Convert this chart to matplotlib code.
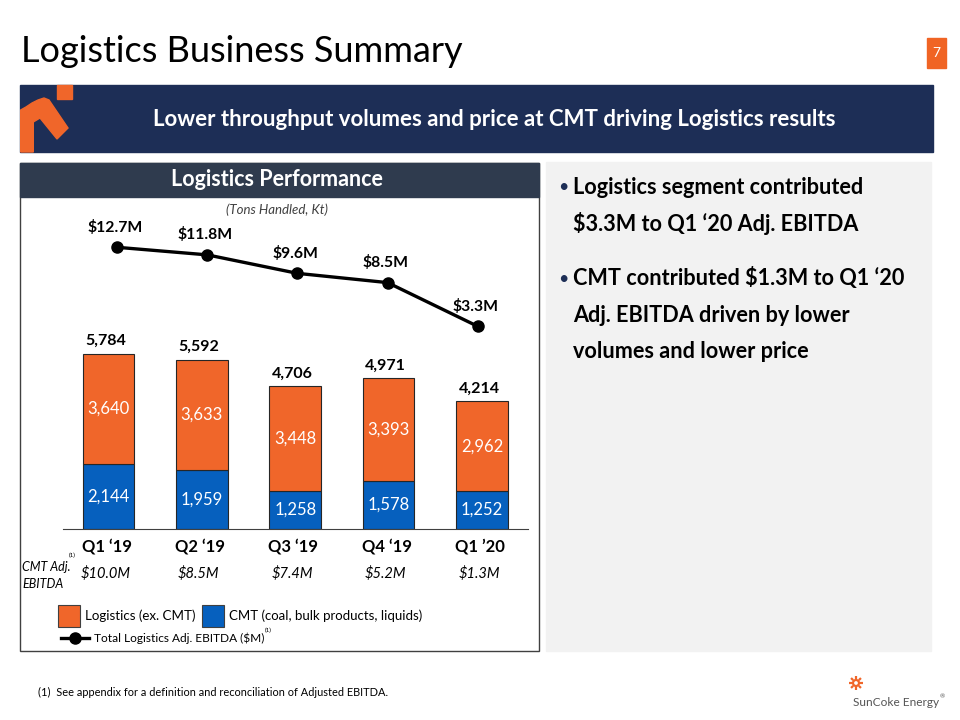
import matplotlib.pyplot as plt
from matplotlib.patches import Rectangle, Polygon, Circle
import numpy as np

plt.rcParams['font.family'] = ['Lato', 'DejaVu Sans']

# data
quarters = ["Q1 \u201819", "Q2 \u201819", "Q3 \u201819", "Q4 \u201819", "Q1 \u201920"]
cmt_kt = [2144, 1959, 1258, 1578, 1252]
logistics_kt = [3640, 3633, 3448, 3393, 2962]
total_kt = [5784, 5592, 4706, 4971, 4214]
ebitda_total = [12.7, 11.8, 9.6, 8.5, 3.3]
ebitda_cmt = [10.0, 8.5, 7.4, 5.2, 1.3]

orange = "#F0662A"
blue = "#0660BE"
navy = "#1D2E56"
slate = "#2F3B4E"

W, H = 960, 720
fig = plt.figure(figsize=(9.6, 7.2), dpi=100)

# background axes in pixel coords (y down)
bg = fig.add_axes([0, 0, 1, 1])
bg.set_xlim(0, W)
bg.set_ylim(H, 0)
bg.axis("off")

# title + page number
bg.text(21, 52, "Logistics Business Summary", fontsize=26, va="center", ha="left", color="black")
bg.add_patch(Rectangle((927, 38), 19, 30, color="#F06424"))
bg.text(936.5, 53, "7", color="white", fontsize=10, ha="center", va="center")

# banner
bg.add_patch(Rectangle((20, 85), 913, 67, color=navy))
bg.add_patch(Rectangle((57, 85), 15, 14, color=orange))
logo = [(20.7, 152), (20.7, 110), (26, 107), (32, 103), (38, 100), (44, 98), (49, 100),
        (68, 128), (57, 139), (40, 118), (33.3, 122), (33.3, 152)]
bg.add_patch(Polygon(logo, closed=True, color=orange))
bg.text(494, 119, "Lower throughput volumes and price at CMT driving Logistics results",
        color="white", fontsize=16, fontweight="bold", ha="center", va="center")

# left panel
bg.add_patch(Rectangle((20, 163), 519, 488, facecolor="white", edgecolor="#404040", lw=1))
bg.add_patch(Rectangle((20, 163), 519, 34, color=slate))
bg.text(277, 180, "Logistics Performance", color="white", fontsize=15.5, fontweight="bold",
        ha="center", va="center")
bg.text(277, 210, "(Tons Handled, Kt)", color="#404040", fontsize=9.5, style="italic",
        ha="center", va="center")

# right panel
bg.add_patch(Rectangle((546, 162), 385, 489, color="#F2F2F2"))
bullets = [["Logistics segment contributed", "$3.3M to Q1 \u201820 Adj. EBITDA"],
           ["CMT contributed $1.3M to Q1 \u201820", "Adj. EBITDA driven by lower",
            "volumes and lower price"]]
y = 187
for b in bullets:
    bg.text(563, y, "\u2022", color=navy, fontsize=13, ha="center", va="center")
    for line in b:
        bg.text(573, y, line, fontsize=15.6, fontweight="bold", ha="left", va="center")
        y += 36.5
    y += 18.5

# footnote + company mark
bg.text(38, 692, "(1)  See appendix for a definition and reconciliation of Adjusted EBITDA.",
        fontsize=7.9, ha="left", va="center")
cx, cy = 856, 683
for a in np.linspace(0, 2 * np.pi, 8, endpoint=False):
    bg.plot([cx + 4 * np.cos(a), cx + 7 * np.cos(a)], [cy + 4 * np.sin(a), cy + 7 * np.sin(a)],
            color=orange, lw=1.6, solid_capstyle="butt")
bg.add_patch(Circle((cx, cy), 3, fill=False, edgecolor=orange, lw=1.6))
bg.text(853, 703, "SunCoke Energy", color="#555555", fontsize=8.6, ha="left", va="center")
bg.text(940, 697, "\u00ae", color="#555555", fontsize=4.5, ha="left", va="center")

# bar chart
x0, x1, yb, yt = 62.7, 528.3, 529, 200
rect = [x0 / W, (H - yb) / H, (x1 - x0) / W, (yb - yt) / H]
ax = fig.add_axes(rect)
ax.patch.set_alpha(0)
xs = np.arange(len(quarters))
ax.bar(xs, cmt_kt, width=0.553, color=blue, edgecolor="#262626", lw=0.8)
ax.bar(xs, logistics_kt, bottom=cmt_kt, width=0.553, color=orange, edgecolor="#262626", lw=0.8)
ax.set_xlim(-0.49, 4.496)
ax.set_ylim(0, (yb - yt) / 0.0303)
for s in ["top", "left", "right"]:
    ax.spines[s].set_visible(False)
ax.spines["bottom"].set_color("#404040")
ax.set_yticks([])
ax.set_xticks(xs - 0.02)
ax.set_xticklabels(quarters, fontsize=12, fontweight="bold")
ax.tick_params(axis="x", length=0, pad=7)

for i in xs:
    ax.text(i, cmt_kt[i] / 2, f"{cmt_kt[i]:,}", color="white", fontsize=12, ha="center", va="center")
    ax.text(i, cmt_kt[i] + logistics_kt[i] / 2, f"{logistics_kt[i]:,}", color="white",
            fontsize=12, ha="center", va="center")
    ax.annotate(f"{total_kt[i]:,}", (i, total_kt[i]), xytext=(-3, 13), textcoords="offset pixels",
                fontsize=11.5, fontweight="bold", ha="center", va="center")
    ax.annotate(f"${ebitda_cmt[i]:.1f}M", (i, 0), xytext=(-3, -45), textcoords="offset pixels",
                fontsize=10.5, style="italic", ha="center", va="center")

# EBITDA line (own x positions, as on the slide)
ax2 = fig.add_axes(rect)
ax2.patch.set_alpha(0)
ax2.axis("off")
ax2.plot(xs, ebitda_total, color="black", lw=2.4, marker="o", ms=8)
ax2.set_xlim(-0.606, 4.562)
ax2.set_ylim(-20.82, 18.33)
for i in xs:
    ax2.annotate(f"${ebitda_total[i]:.1f}M", (i, ebitda_total[i]), xytext=(-2, 20),
                 textcoords="offset pixels", fontsize=11.3, fontweight="bold",
                 ha="center", va="center")

# left labels + legend
bg.text(22, 567, "CMT Adj.", fontsize=9, style="italic", ha="left", va="center")
bg.text(22, 584, "EBITDA", fontsize=9, style="italic", ha="left", va="center")
bg.text(72, 555, "(1)", fontsize=4.5, ha="center", va="center")

bg.add_patch(Rectangle((58, 605), 22, 22, facecolor=orange, edgecolor="#404040", lw=0.8))
bg.text(85, 616, "Logistics (ex. CMT)", fontsize=9.6, ha="left", va="center")
bg.add_patch(Rectangle((202, 605), 22, 22, facecolor=blue, edgecolor="#404040", lw=0.8))
bg.text(229, 616, "CMT (coal, bulk products, liquids)", fontsize=9.5, ha="left", va="center")
bg.plot([61, 89], [638, 638], color="black", lw=2.4)
bg.plot([75], [638], color="black", marker="o", ms=8)
bg.text(94, 638, "Total Logistics Adj. EBITDA ($M)", fontsize=8.6, ha="left", va="center")
bg.text(268, 630, "(1)", fontsize=4.5, ha="center", va="center")

fig.savefig("out.png", dpi=100)
